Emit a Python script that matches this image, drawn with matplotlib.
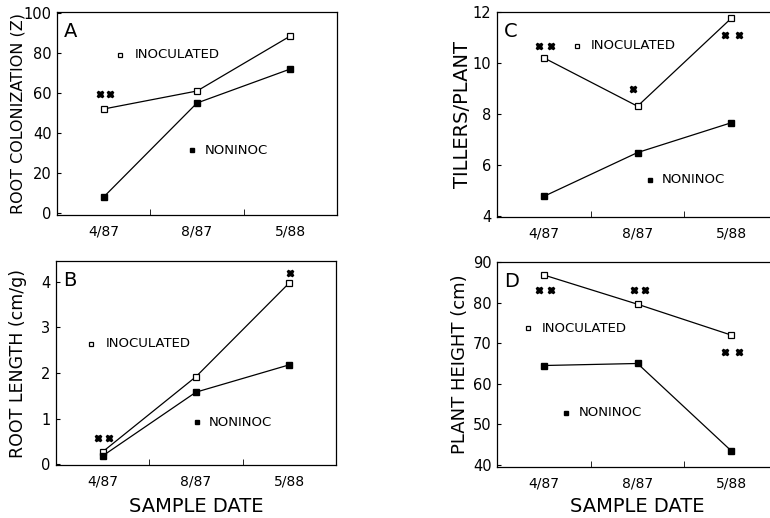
import matplotlib
matplotlib.use("Agg")
import matplotlib.pyplot as plt
from matplotlib.ticker import FixedLocator

plt.rcParams["font.family"] = ["DejaVu Sans"]

dates = ["4/87", "8/87", "5/88"]

root_col_inoc = [52, 61, 88.5]
root_col_non = [8, 55, 72]
root_len_inoc = [0.27, 1.92, 3.98]
root_len_non = [0.18, 1.58, 2.18]
tillers_inoc = [10.2, 8.3, 11.75]
tillers_non = [4.76, 6.48, 7.65]
height_inoc = [86.8, 79.6, 72.0]
height_non = [64.5, 65.0, 43.5]

# significance marks (x in date index units, y in data units)
sig_a_x = [-0.04, 0.07]
sig_a_y = [59.5, 59.5]
sig_b_x = [-0.05, 0.065, 2.01]
sig_b_y = [0.57, 0.57, 4.2]
sig_c_x = [-0.05, 0.08, 0.95, 1.93, 2.08]
sig_c_y = [10.68, 10.68, 8.97, 11.1, 11.1]
sig_d_x = [-0.05, 0.08, 0.96, 1.08, 1.93, 2.08]
sig_d_y = [83.1, 83.1, 83.1, 83.1, 67.8, 67.8]

W, H = 770, 518
fig = plt.figure(figsize=(W / 100, H / 100), dpi=100)


def box(l, t, r, b):
    return [l / W, 1 - b / H, (r - l) / W, (b - t) / H]


panels = [
    dict(rect=box(57, 12, 337, 215), inoc=root_col_inoc, non=root_col_non,
         ylim=(-1, 100.5), yticks=[0, 20, 40, 60, 80, 100],
         ylabel="ROOT COLONIZATION (Z)", ylsize=11.5, letter="A",
         sx=sig_a_x, sy=sig_a_y, leg_i=(0.18, 79), leg_n=(0.95, 31.5),
         xlabel=False, ylx=18),
    dict(rect=box(56, 261, 336, 465), inoc=root_len_inoc, non=root_len_non,
         ylim=(-0.02, 4.46), yticks=[0, 1, 2, 3, 4],
         ylabel="ROOT LENGTH (cm/g)", ylsize=12.5, letter="B",
         sx=sig_b_x, sy=sig_b_y, leg_i=(-0.12, 2.64), leg_n=(1.01, 0.92),
         xlabel=True, ylx=18),
    dict(rect=box(497, 12, 778, 217), inoc=tillers_inoc, non=tillers_non,
         ylim=(3.95, 12), yticks=[4, 6, 8, 10, 12],
         ylabel="TILLERS/PLANT", ylsize=14, letter="C",
         sx=sig_c_x, sy=sig_c_y, leg_i=(0.35, 10.68), leg_n=(1.13, 5.41),
         xlabel=False, ylx=462),
    dict(rect=box(497, 262, 778, 467), inoc=height_inoc, non=height_non,
         ylim=(39.5, 90), yticks=[40, 50, 60, 70, 80, 90],
         ylabel="PLANT HEIGHT (cm)", ylsize=13, letter="D",
         sx=sig_d_x, sy=sig_d_y, leg_i=(-0.17, 73.7), leg_n=(0.24, 52.9),
         xlabel=True, ylx=460),
]

x = list(range(len(dates)))

for p in panels:
    ax = fig.add_axes(p["rect"])
    ax.plot(x, p["inoc"], color="black", lw=0.9, marker="s", ms=4,
            mfc="white", mec="black", mew=0.9, zorder=3)
    ax.plot(x, p["non"], color="black", lw=0.9, marker="s", ms=4,
            mfc="black", mec="black", zorder=3)
    ax.plot(p["sx"], p["sy"], ls="none", marker="X", ms=4.5, color="black")

    lx, ly = p["leg_i"]
    ax.plot([lx], [ly], ls="none", marker="s", ms=3.5, mfc="white", mec="black", mew=0.9)
    ax.text(lx + 0.15, ly, "INOCULATED", fontsize=9.5, va="center", ha="left")
    lx, ly = p["leg_n"]
    ax.plot([lx], [ly], ls="none", marker="s", ms=3.5, mfc="black", mec="black")
    ax.text(lx + 0.13, ly, "NONINOC", fontsize=9.5, va="center", ha="left")

    ax.text(0.025, 0.95, p["letter"], transform=ax.transAxes, fontsize=14,
            va="top", ha="left")

    ax.set_xlim(-0.5, 2.5)
    ax.set_ylim(*p["ylim"])
    ax.set_xticks(x)
    ax.set_xticklabels(dates, fontsize=10)
    ax.xaxis.set_minor_locator(FixedLocator([0.5, 1.5]))
    ax.set_yticks(p["yticks"])
    ax.tick_params(axis="y", labelsize=10.5, direction="in", length=3, pad=4)
    ax.tick_params(axis="x", which="major", direction="in", length=0, pad=7)
    ax.tick_params(axis="x", which="minor", direction="in", length=4)
    for s in ax.spines.values():
        s.set_linewidth(0.9)

    yc = (p["rect"][1] + p["rect"][3] / 2)
    fig.text(p["ylx"] / W, yc, p["ylabel"], rotation=90, fontsize=p["ylsize"],
             ha="center", va="center")
    if p["xlabel"]:
        xc = p["rect"][0] + 0.5 * p["rect"][2]
        fig.text(xc, 1 - 507 / H, "SAMPLE DATE", fontsize=14, ha="center",
                 va="center")

fig.savefig("out.png", dpi=100)
